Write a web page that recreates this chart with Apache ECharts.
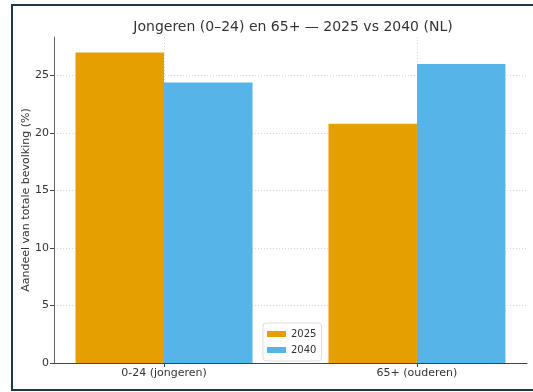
<!DOCTYPE html>
<html>
<head>
<meta charset="utf-8">
<script src="https://cdn.jsdelivr.net/npm/echarts@6/dist/echarts.min.js"></script>
<style>
  html, body { margin: 0; padding: 0; background: #fff; }
  #chart { width: 533px; height: 392px; }
</style>
</head>
<body>
<div id="chart"></div>
<script>
const categories = ['0-24 (jongeren)', '65+ (ouderen)'];
const categoryPos = [0, 1];
const years = ['2025', '2040'];
const values2025 = [27.0, 20.8];
const values2040 = [24.4, 26.0];
const yTicks = [0, 5, 10, 15, 20, 25];

const FONT = 'DejaVu Sans';
const chart = echarts.init(document.getElementById('chart'));

const makeSeries = (name, values, color) => ({
  name,
  type: 'bar',
  barWidth: 88.5,
  barGap: '0%',
  itemStyle: { color },
  data: values.map((v, i) => [categoryPos[i], v]),
});

chart.setOption({
  animation: false,
  textStyle: { fontFamily: FONT },
  graphic: [{
    type: 'rect',
    shape: { x: 12, y: 5, width: 540, height: 385 },
    style: { fill: 'none', stroke: '#1d3a44', lineWidth: 2 },
    z: 100,
  }],
  title: {
    text: 'Jongeren (0–24) en 65+ — 2025 vs 2040 (NL)',
    left: 288,
    top: 15,
    textAlign: 'center',
    textStyle: { fontFamily: FONT, fontSize: 14, fontWeight: 'normal', color: '#333' },
  },
  legend: {
    data: years,
    orient: 'vertical',
    left: 263,
    top: 323,
    padding: [5, 5, 5, 4],
    itemGap: 4,
    itemWidth: 19,
    itemHeight: 6,
    icon: 'rect',
    borderColor: '#ddd',
    borderWidth: 1,
    borderRadius: 3,
    backgroundColor: '#fff',
    textStyle: { fontFamily: FONT, fontSize: 10, color: '#333', lineHeight: 12 },
  },
  grid: { left: 54, right: 6, top: 37, bottom: 29, containLabel: false },
  xAxis: {
    type: 'value',
    min: -0.435,
    max: 1.435,
    axisLine: { show: true, onZero: false, lineStyle: { color: '#444', width: 1 } },
    axisTick: { show: true, customValues: categoryPos, length: 4, lineStyle: { color: '#444' } },
    axisLabel: {
      customValues: categoryPos,
      formatter: v => categories[Math.round(v)],
      fontFamily: FONT, fontSize: 11, color: '#333', margin: 5,
    },
    splitLine: { show: true, lineStyle: { color: '#ccc', type: [1, 2], width: 0.8 } },
  },
  yAxis: {
    type: 'value',
    min: 0,
    max: 28.35,
    interval: 5,
    name: 'Aandeel van totale bevolking (%)',
    nameLocation: 'middle',
    nameGap: 22,
    nameMoveOverlap: false,
    nameTextStyle: { fontFamily: FONT, fontSize: 11, color: '#333' },
    axisLine: { show: true, onZero: false, lineStyle: { color: '#666', width: 1 } },
    axisTick: { show: true, customValues: yTicks, length: 4, lineStyle: { color: '#444' } },
    axisLabel: { customValues: yTicks, fontFamily: FONT, fontSize: 11, color: '#333', margin: 5 },
    splitLine: { show: true, lineStyle: { color: '#ccc', type: [1, 2], width: 0.8 } },
  },
  series: [
    makeSeries(years[0], values2025, '#E69F00'),
    makeSeries(years[1], values2040, '#56B4E9'),
  ],
});
</script>
</body>
</html>
